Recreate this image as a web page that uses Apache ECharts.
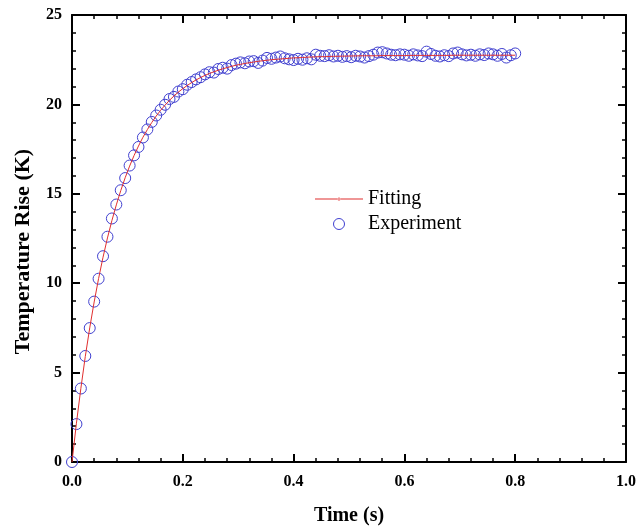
<!DOCTYPE html>
<html>
<head>
<meta charset="utf-8">
<title>Temperature Rise</title>
<script src="https://cdn.jsdelivr.net/npm/echarts@6/dist/echarts.min.js"></script>
<style>
    html, body { margin: 0; padding: 0; background: #fff; }
    #chart { width: 639px; height: 531px; }
</style>
</head>
<body>
<div id="chart"></div>
<script>
// time points (s), one every 8 ms
const timeS = [
    0.000, 0.008, 0.016, 0.024, 0.032, 0.040, 0.048, 0.056, 0.064, 0.072,
    0.080, 0.088, 0.096, 0.104, 0.112, 0.120, 0.128, 0.136, 0.144, 0.152,
    0.160, 0.168, 0.176, 0.184, 0.192, 0.200, 0.208, 0.216, 0.224, 0.232,
    0.240, 0.248, 0.256, 0.264, 0.272, 0.280, 0.288, 0.296, 0.304, 0.312,
    0.320, 0.328, 0.336, 0.344, 0.352, 0.360, 0.368, 0.376, 0.384, 0.392,
    0.400, 0.408, 0.416, 0.424, 0.432, 0.440, 0.448, 0.456, 0.464, 0.472,
    0.480, 0.488, 0.496, 0.504, 0.512, 0.520, 0.528, 0.536, 0.544, 0.552,
    0.560, 0.568, 0.576, 0.584, 0.592, 0.600, 0.608, 0.616, 0.624, 0.632,
    0.640, 0.648, 0.656, 0.664, 0.672, 0.680, 0.688, 0.696, 0.704, 0.712,
    0.720, 0.728, 0.736, 0.744, 0.752, 0.760, 0.768, 0.776, 0.784, 0.792,
    0.800
];

// measured temperature rise (K)
const experiment = [
    0.00, 2.12, 4.11, 5.93, 7.49, 8.97, 10.25, 11.51, 12.60, 13.62,
    14.40, 15.20, 15.88, 16.58, 17.15, 17.62, 18.15, 18.60, 19.02, 19.38,
    19.70, 19.98, 20.30, 20.42, 20.72, 20.85, 21.10, 21.25, 21.40, 21.52,
    21.68, 21.80, 21.78, 21.98, 22.05, 22.00, 22.20, 22.28, 22.35, 22.30,
    22.40, 22.42, 22.32, 22.45, 22.60, 22.55, 22.62, 22.68, 22.58, 22.52,
    22.48, 22.55, 22.50, 22.58, 22.52, 22.78, 22.72, 22.70, 22.75, 22.68,
    22.72, 22.66, 22.70, 22.64, 22.72, 22.68, 22.62, 22.70, 22.78, 22.90,
    22.92, 22.85, 22.78, 22.75, 22.80, 22.78, 22.72, 22.80, 22.74, 22.70,
    22.95, 22.82, 22.72, 22.68, 22.75, 22.70, 22.85, 22.90, 22.80, 22.74,
    22.78, 22.72, 22.80, 22.76, 22.85, 22.80, 22.72, 22.82, 22.62, 22.75,
    22.85
];

// fitted curve (K)
const fitting = [
    0.00, 2.17, 4.12, 5.90, 7.50, 8.95, 10.26, 11.45, 12.53, 13.50,
    14.38, 15.18, 15.90, 16.55, 17.14, 17.67, 18.16, 18.59, 18.99, 19.35,
    19.67, 19.96, 20.23, 20.47, 20.69, 20.88, 21.06, 21.22, 21.37, 21.50,
    21.62, 21.73, 21.82, 21.91, 21.99, 22.06, 22.13, 22.19, 22.24, 22.29,
    22.33, 22.37, 22.41, 22.44, 22.47, 22.50, 22.52, 22.54, 22.56, 22.58,
    22.60, 22.61, 22.62, 22.64, 22.65, 22.66, 22.67, 22.67, 22.68, 22.69,
    22.69, 22.70, 22.70, 22.71, 22.71, 22.72, 22.72, 22.72, 22.72, 22.72,
    22.73, 22.73, 22.73, 22.73, 22.73, 22.73, 22.74, 22.74, 22.74, 22.74,
    22.74, 22.74, 22.74, 22.74, 22.74, 22.74, 22.75, 22.75, 22.75, 22.75,
    22.75, 22.75, 22.75, 22.75, 22.75, 22.75, 22.75, 22.75, 22.75, 22.75,
    22.75
];

(function () {
    let chart = echarts.init(document.querySelector("#chart"));
    const serif = "'Liberation Serif', 'Times New Roman', serif";
    const blue = "#4040d0";
    const red = "#e02f2f";

    // shared box-axis look: ticks inside, black frame
    function boxAxis(extra) {
        return Object.assign({
            type: "value",
            axisLine: { show: true, onZero: false, lineStyle: { color: "#000", width: 2 } },
            axisTick: { show: true, inside: true, length: 8, lineStyle: { color: "#000", width: 2 } },
            minorTick: { show: true, splitNumber: 5, length: 4, lineStyle: { color: "#000", width: 1.5 } },
            splitLine: { show: false }
        }, extra);
    }

    let option = {
        animation: false,
        backgroundColor: "#fff",
        grid: {
            left: 72,
            right: 11,
            top: 15,
            bottom: 68,
            containLabel: false
        },
        legend: {
            orient: "vertical",
            left: 310,
            top: 184,
            itemWidth: 48,
            itemHeight: 11,
            itemGap: 5,
            symbolKeepAspect: true,
            textStyle: { fontFamily: serif, fontSize: 20, color: "#000" },
            data: [
                // thin line with a small dot in the middle
                { name: "Fitting", icon: "path://M0,1 L48,1 L48,2 L0,2 Z M22.5,1.5 a1.5,1.5 0 1,0 3,0 a1.5,1.5 0 1,0 -3,0 Z" },
                {
                    name: "Experiment",
                    icon: "circle",
                    itemStyle: { color: "rgba(255,255,255,0)", borderColor: blue, borderWidth: 1 }
                }
            ]
        },
        xAxis: [
            boxAxis({
                position: "bottom",
                min: 0, max: 1, interval: 0.2,
                name: "Time (s)",
                nameLocation: "middle",
                nameGap: 44,
                nameTextStyle: { fontFamily: serif, fontSize: 20, fontWeight: "bold", color: "#000" },
                axisLabel: {
                    margin: 12,
                    fontFamily: serif, fontSize: 16, fontWeight: "bold", color: "#000",
                    formatter: v => v.toFixed(1)
                }
            }),
            boxAxis({
                position: "top",
                min: 0, max: 1, interval: 0.2,
                axisLabel: { show: false }
            })
        ],
        yAxis: [
            boxAxis({
                position: "left",
                min: 0, max: 25, interval: 5,
                name: "Temperature Rise (K)",
                nameLocation: "middle",
                nameGap: 38,
                nameTextStyle: {
                    fontFamily: serif, fontSize: 22, fontWeight: "bold", color: "#000",
                    padding: [0, 26, 0, 0]
                },
                axisLabel: {
                    margin: 10,
                    fontFamily: serif, fontSize: 16, fontWeight: "bold", color: "#000"
                }
            }),
            boxAxis({
                position: "right",
                min: 0, max: 25, interval: 5,
                axisLabel: { show: false }
            })
        ],
        series: [
            {
                name: "Fitting",
                type: "line",
                data: timeS.map((t, i) => [t, fitting[i]]),
                symbol: "circle",
                symbolSize: 3,
                showSymbol: false,
                lineStyle: { color: red, width: 1 },
                itemStyle: { color: red },
                z: 3
            },
            {
                name: "Experiment",
                type: "scatter",
                data: timeS.map((t, i) => [t, experiment[i]]),
                symbol: "circle",
                symbolSize: 11,
                itemStyle: { color: "rgba(255,255,255,0)", borderColor: blue, borderWidth: 1, opacity: 1 },
                z: 2
            }
        ]
    };

    chart.setOption(option);
})();
</script>
</body>
</html>
